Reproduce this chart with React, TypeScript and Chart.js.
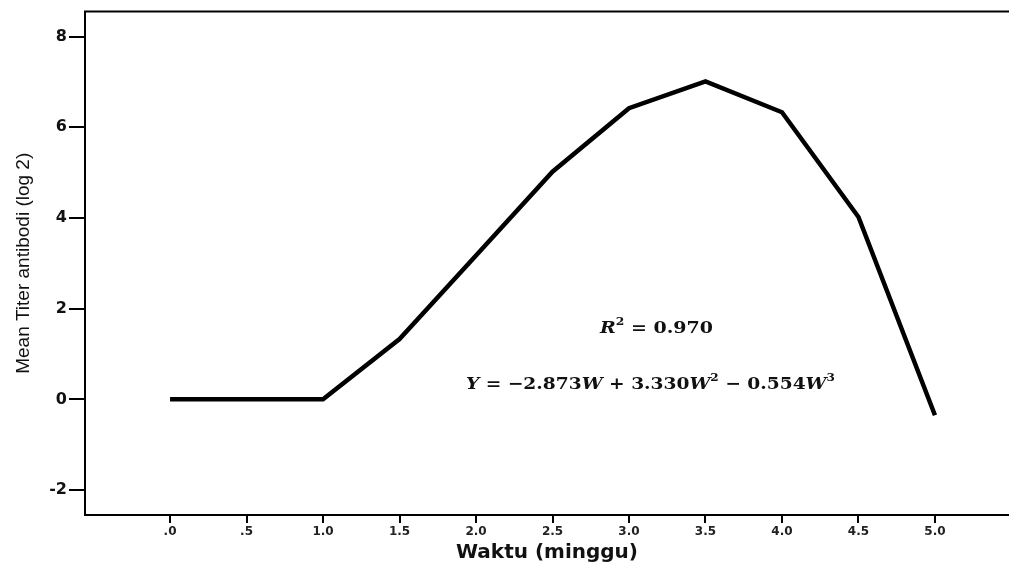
import React, { useEffect, useRef } from "react";
import { Chart, registerables } from "chart.js";

Chart.register(...registerables);

// Data
const weeks: number[] = [0, 0.5, 1.0, 1.5, 2.0, 2.5, 3.0, 3.5, 4.0, 4.5, 5.0];
const meanTiter: number[] = [0, 0, 0, 1.33, 3.17, 5.02, 6.42, 7.01, 6.33, 4.02, -0.35];
const xTickValues: number[] = [0, 0.5, 1.0, 1.5, 2.0, 2.5, 3.0, 3.5, 4.0, 4.5, 5.0];
const yTickValues: number[] = [-2, 0, 2, 4, 6, 8];
const xTitle = "Waktu (minggu)";
const yTitle = "Mean Titer antibodi (log 2)";

type Seg = { t: string; it?: boolean; sup?: boolean };
const r2Text: Seg[] = [{ t: "R", it: true }, { t: "2", sup: true }, { t: " = 0.970" }];
const eqText: Seg[] = [
  { t: "Y", it: true },
  { t: " = \u22122.873" },
  { t: "W", it: true },
  { t: " + 3.330" },
  { t: "W", it: true },
  { t: "2", sup: true },
  { t: " \u2212 0.554" },
  { t: "W", it: true },
  { t: "3", sup: true },
];

// annotation anchors (data coordinates) and styles
const r2Anchor = { x: 3.18, y: 1.57, width: 113 };
const eqAnchor = { x: 3.14, y: 0.33, width: 369 };
const FS = 17;

function fontFor(s: Seg) {
  const size = s.sup ? Math.round(FS * 0.62) : FS;
  return `${s.it ? "italic " : ""}bold ${size}px "DejaVu Serif", serif`;
}

function drawRich(ctx: CanvasRenderingContext2D, segs: Seg[], cx: number, cy: number, targetW: number) {
  ctx.save();
  let total = 0;
  const widths = segs.map((s) => {
    ctx.font = fontFor(s);
    const w = ctx.measureText(s.t).width;
    total += w;
    return w;
  });
  const sx = targetW / total;
  ctx.translate(cx - targetW / 2, cy);
  ctx.scale(sx, 1);
  ctx.fillStyle = "#111";
  ctx.textBaseline = "middle";
  ctx.textAlign = "left";
  let x = 0;
  segs.forEach((s, i) => {
    ctx.font = fontFor(s);
    ctx.fillText(s.t, x, s.sup ? -FS * 0.38 : 0);
    x += widths[i];
  });
  ctx.restore();
}

const annotationPlugin = {
  id: "annot",
  afterDatasetsDraw(chart: any) {
    const ctx = chart.ctx as CanvasRenderingContext2D;
    const xs = chart.scales.x;
    const ys = chart.scales.y;
    const area = chart.chartArea;
    // top frame line
    ctx.save();
    ctx.strokeStyle = "#000";
    ctx.lineWidth = 2;
    ctx.beginPath();
    ctx.moveTo(area.left - 1, area.top);
    ctx.lineTo(area.right, area.top);
    ctx.stroke();
    ctx.restore();
    drawRich(ctx, r2Text, xs.getPixelForValue(r2Anchor.x), ys.getPixelForValue(r2Anchor.y), r2Anchor.width);
    drawRich(ctx, eqText, xs.getPixelForValue(eqAnchor.x), ys.getPixelForValue(eqAnchor.y), eqAnchor.width);
  },
};

function fmtX(v: number) {
  if (v === 0) return ".0";
  if (v === 0.5) return ".5";
  return v.toFixed(1);
}

export default function App() {
  const ref = useRef<HTMLCanvasElement | null>(null);
  useEffect(() => {
    if (!ref.current) return;
    const chart = new Chart(ref.current, {
      type: "line",
      data: {
        datasets: [
          {
            data: weeks.map((w, i) => ({ x: w, y: meanTiter[i] })),
            borderColor: "#000",
            borderWidth: 4.5,
            pointRadius: 0,
            tension: 0,
            fill: false,
          },
        ],
      },
      options: {
        animation: false,
        responsive: true,
        maintainAspectRatio: false,
        layout: { padding: { top: 10, left: 0, right: 0, bottom: 0 } },
        plugins: { legend: { display: false }, tooltip: { enabled: false } },
        scales: {
          x: {
            type: "linear",
            min: -0.556,
            max: 5.484,
            afterBuildTicks: (s: any) => {
              s.ticks = xTickValues.map((v) => ({ value: v }));
            },
            afterFit: (s: any) => {
              s.height = 57;
            },
            grid: { drawOnChartArea: false, drawTicks: true, tickLength: 8, color: "#000", lineWidth: 2 },
            border: { display: true, color: "#000", width: 2 },
            ticks: {
              callback: (v: any) => fmtX(Number(v)),
              color: "#222",
              padding: 2,
              maxRotation: 0,
              autoSkip: false,
              font: { family: '"DejaVu Sans", sans-serif', weight: "bold", size: 12 },
            },
            title: {
              display: true,
              text: xTitle,
              color: "#111",
              padding: { top: 0, bottom: 7 },
              font: { family: '"DejaVu Sans", sans-serif', weight: "bold", size: 20 },
            },
          },
          y: {
            type: "linear",
            min: -2.55,
            max: 8.55,
            afterBuildTicks: (s: any) => {
              s.ticks = yTickValues.map((v) => ({ value: v }));
            },
            afterFit: (s: any) => {
              s.width = 85;
            },
            grid: { drawOnChartArea: false, drawTicks: true, tickLength: 16, color: "#000", lineWidth: 2 },
            border: { display: true, color: "#000", width: 2 },
            ticks: {
              color: "#111",
              padding: 2,
              autoSkip: false,
              font: { family: '"DejaVu Sans", sans-serif', weight: "bold", size: 16 },
            },
            title: {
              display: true,
              text: yTitle,
              color: "#111",
              padding: { top: 12, bottom: 0 },
              font: { family: '"Liberation Sans", Arial, sans-serif', size: 19 },
            },
          },
        },
      },
      plugins: [annotationPlugin],
    });
    return () => chart.destroy();
  }, []);
  return (
    <div style={{ position: "absolute", left: 0, top: 0, width: 1009, height: 572, background: "#fff" }}>
      <canvas ref={ref} />
    </div>
  );
}
